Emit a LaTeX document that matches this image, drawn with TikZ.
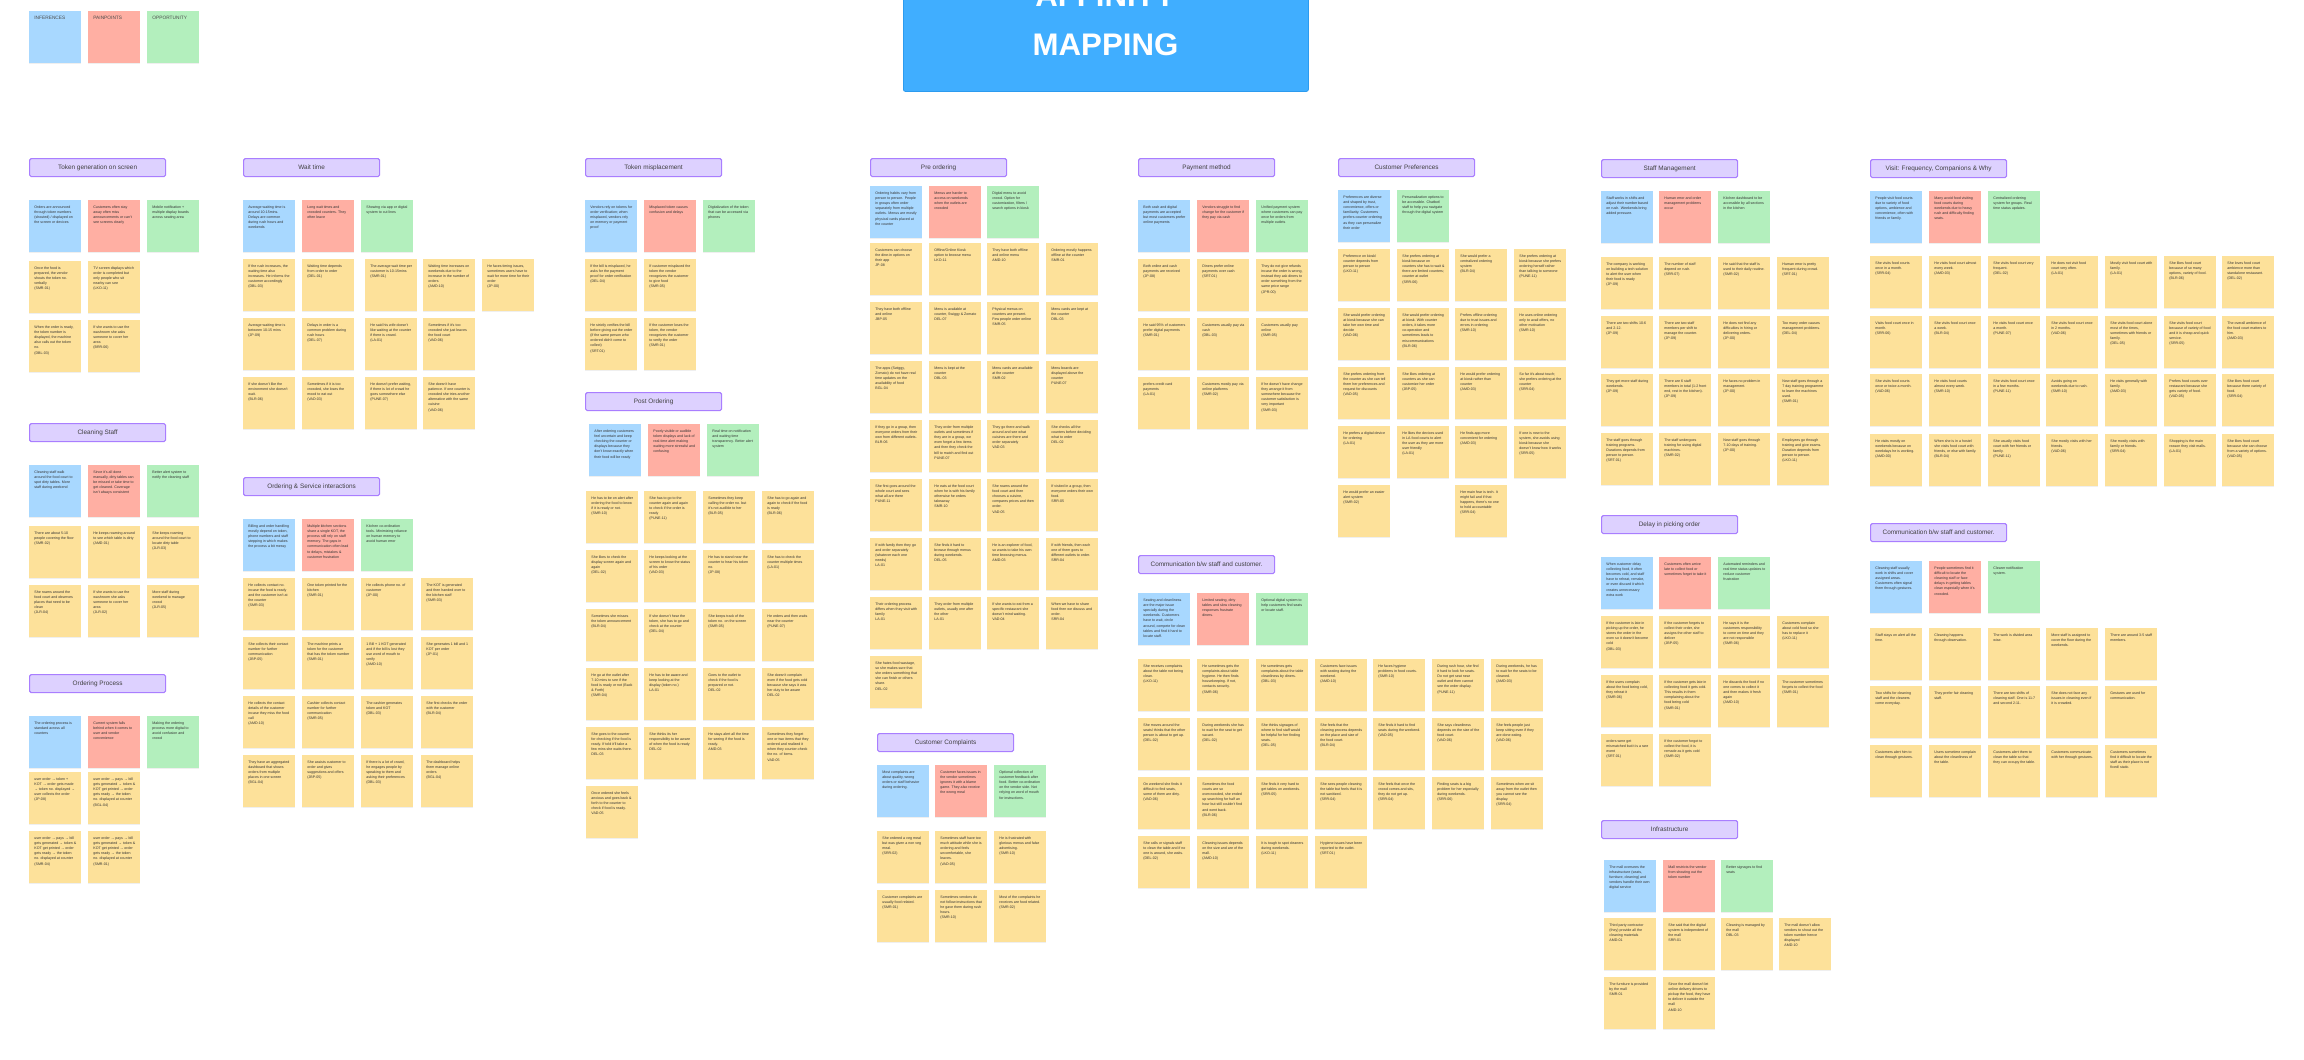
\documentclass[tikz,border=0pt]{standalone}
\usepackage{fontspec}
\setmainfont{Liberation Sans}
\usetikzlibrary{shadows}
\definecolor{nblue}{HTML}{A8D8FF}
\definecolor{npink}{HTML}{FFAFA3}
\definecolor{ngreen}{HTML}{B3EFBD}
\definecolor{nyel}{HTML}{FDE19A}
\definecolor{hfill}{HTML}{DDD1FF}
\definecolor{hdraw}{HTML}{A97EFF}
\definecolor{tfill}{HTML}{40AEFF}
\definecolor{tdraw}{HTML}{2C9BEF}
\newcommand\notesize{\fontsize{1.8}{2.6}\selectfont}
\tikzset{
  note/.style={anchor=north west, inner sep=2.5pt, minimum width=26pt, minimum height=26pt,
    text=black!80, font=\notesize, drop shadow={shadow xshift=0pt, shadow yshift=-0.5pt, opacity=0.12}},
  legnote/.style={note, font=\fontsize{2.4}{3}\selectfont, text=black!70},
  hdrbox/.style={anchor=north west, inner sep=0pt, minimum width=68pt, minimum height=9pt,
    fill=hfill, draw=hdraw, line width=0.6pt, rounded corners=0.8pt,
    font=\fontsize{3.2}{3.8}\selectfont, text=black!75},
  titlebox/.style={anchor=north west, inner sep=0pt, minimum width=202.5pt, minimum height=75pt,
    fill=tfill, draw=tdraw, line width=0.4pt, rounded corners=1pt},
  titletext/.style={anchor=base, text=white, font=\bfseries\fontsize{15.6}{18}\selectfont}
}
\newcommand\stk[5]{\node[note, fill=#1] (#2) at (#3,#4) {\parbox[t][21pt][t]{21pt}{\raggedright #5}};}
\newcommand\hdr[4]{\node[hdrbox] (#1) at (#2,#3) {#4};}
\begin{document}
\begin{tikzpicture}[x=0.5pt,y=-0.5pt]
\useasboundingbox (0,0) rectangle (2304,1060);
\fill[white] (0,0) rectangle (2304,1060);
\clip (0,0) rectangle (2304,1060);
% title
\node[titlebox] (title) at (903,-59) {};
\node[titletext] (titleA) at (1105.5,6) {AFFINITY};
\node[titletext] (titleB) at (1105.5,55) {MAPPING};
% legend
\node[legnote, fill=nblue] (legB) at (29,11) {\parbox[t][21pt][t]{21pt}{INFERENCES}};
\node[legnote, fill=npink] (legP) at (88,11) {\parbox[t][21pt][t]{21pt}{PAINPOINTS}};
\node[legnote, fill=ngreen] (legG) at (147,11) {\parbox[t][21pt][t]{21pt}{OPPORTUNITY}};

% ===== Token generation on screen
\hdr{h1}{29}{158}{Token generation on screen}
\stk{nblue}{a1}{29}{200}{Orders are announced through token numbers (shouted) / displayed on the screen or devices}
\stk{npink}{a2}{88}{200}{Customers often stay away often miss announcements or can't see screens clearly}
\stk{ngreen}{a3}{147}{200}{Mobile notification + multiple display boards across seating area}
\stk{nyel}{a4}{29}{261}{Once the food is prepared, the vendor shouts the token no. verbally\\(SMR-01)}
\stk{nyel}{a5}{88}{261}{TV screen displays which order is completed but only people who sit nearby can see\\(LKO-11)}
\stk{nyel}{a6}{29}{320}{When the order is ready, the token number is displayed, the machine also calls out the token no.\\(DBL-03)}
\stk{nyel}{a7}{88}{320}{If she wants to use the washroom she asks someone to cover her area\\(BRR-06)}

% ===== Cleaning Staff
\hdr{h2}{29}{423}{Cleaning Staff}
\stk{nblue}{b1}{29}{465}{Cleaning staff walk around the food court to spot dirty tables. More staff during weekend}
\stk{npink}{b2}{88}{465}{Since it's all done manually, dirty tables can be missed or take time to get cleaned. Coverage isn't always consistent}
\stk{ngreen}{b3}{147}{465}{Better alert system to notify the cleaning staff}
\stk{nyel}{b4}{29}{526}{There are about 5-10 people covering the floor\\(SMR-02)}
\stk{nyel}{b5}{88}{526}{He keeps roaming around to see which table is dirty\\(AMD-01)}
\stk{nyel}{b6}{147}{526}{She keeps roaming around the food court to locate dirty table\\(JLR-03)}
\stk{nyel}{b7}{29}{585}{She roams around the food court and observes places that need to be clean\\(JLR-04)}
\stk{nyel}{b8}{88}{585}{If she wants to use the washroom she asks someone to cover her area\\(JLR-02)}
\stk{nyel}{b9}{147}{585}{More staff during weekend to manage crowd\\(JLR-05)}

% ===== Ordering Process
\hdr{h3}{29}{674}{Ordering Process}
\stk{nblue}{c1}{29}{716}{The ordering process is standard across all counters}
\stk{npink}{c2}{88}{716}{Current system falls behind when it comes to user and vendor convenience}
\stk{ngreen}{c3}{147}{716}{Making the ordering process more digital to avoid confusion and crowd}
\stk{nyel}{c4}{29}{772}{user order → token + KOT → order gets made → token no. displayed → user collects the order\\(JP-08)}
\stk{nyel}{c5}{88}{772}{user order → pays → bill gets generated → token \& KOT get printed → order gets ready → the token no. displayed at counter\\(BGL-04)}
\stk{nyel}{c6}{29}{831}{user order → pays → bill gets generated → token \& KOT get printed → order gets ready → the token no. displayed at counter\\(SMR-04)}
\stk{nyel}{c7}{88}{831}{user order → pays → bill gets generated → token \& KOT get printed → order gets ready → the token no. displayed at counter\\(SMR-01)}

% ===== Wait time
\hdr{h4}{243}{158}{Wait time}
\stk{nblue}{d1}{243}{200}{Average waiting time is around 10-15mins. Delays are common during rush hours and weekends}
\stk{npink}{d2}{302}{200}{Long wait times and crowded counters. They often leave}
\stk{ngreen}{d3}{361}{200}{Showing via app or digital system to cut lines}
\stk{nyel}{d4}{243}{259}{If the rush increases, the waiting time also increases. He informs the customer accordingly\\(DBL-03)}
\stk{nyel}{d5}{302}{259}{Waiting time depends from order to order\\(DEL-01)}
\stk{nyel}{d6}{365}{259}{The average wait time per customer is 10-15mins\\(SMR-01)}
\stk{nyel}{d7}{423}{259}{Waiting time increases on weekends due to the increase in the number of orders\\(AMD-10)}
\stk{nyel}{d8}{482}{259}{He faces timing issues, sometimes users have to wait for more time for their order\\(JP-00)}
\stk{nyel}{d9}{243}{318}{Average waiting time is between 10-15 mins\\(JP-09)}
\stk{nyel}{d10}{302}{318}{Delays in order is a common problem during rush hours\\(DEL-07)}
\stk{nyel}{d11}{365}{318}{He said his wife doesn't like waiting at the counter if there is crowd.\\(LA-01)}
\stk{nyel}{d12}{423}{318}{Sometimes if it's too crowded she just leaves the food court\\(VAD-06)}
\stk{nyel}{d13}{243}{377}{If she doesn't like the environment she doesn't wait.\\(BLR-06)}
\stk{nyel}{d14}{302}{377}{Sometimes if it is too crowded, she loses the mood to eat out\\(VAD-03)}
\stk{nyel}{d15}{365}{377}{He doesn't prefer waiting, if there is lot of crowd he goes somewhere else\\(PUNE-07)}
\stk{nyel}{d16}{423}{377}{She doesn't have patience. If one counter is crowded she tries another alternative with the same cuisine\\(VAD-06)}

% ===== Ordering & Service interactions
\hdr{h5}{243}{477}{Ordering \& Service interactions}
\stk{nblue}{e1}{243}{519}{Billing and order handling mostly depend on token, phone numbers and staff stepping in which makes the process a bit messy}
\stk{npink}{e2}{302}{519}{Multiple kitchen sections share a single KOT, the process still rely on staff memory. The gaps in communication often lead to delays, mistakes \& customer frustration}
\stk{ngreen}{e3}{361}{519}{Kitchen co-ordination tools. Minimizing reliance on human memory to avoid human error}
\stk{nyel}{e4}{243}{578}{He collects contact no. incase the food is ready and the customer isn't at the counter\\(SMR-03)}
\stk{nyel}{e5}{302}{578}{One token printed for the kitchen\\(SMR-01)}
\stk{nyel}{e6}{361}{578}{He collects phone no. of customer\\(JP-00)}
\stk{nyel}{e7}{421}{578}{The KOT is generated and then handed over to the kitchen staff\\(SMR-03)}
\stk{nyel}{e8}{243}{637}{She collects their contact number for further communication\\(JBP-05)}
\stk{nyel}{e9}{302}{637}{The machine prints a token for the customer that has the token number\\(SMR-01)}
\stk{nyel}{e10}{361}{637}{1 Bill + 1 KOT generated and if the bill is lost they use word of mouth to verify\\(AMD-10)}
\stk{nyel}{e11}{421}{637}{She generates 1 bill and 1 KOT per order\\(JP-01)}
\stk{nyel}{e12}{243}{696}{He collects the contact details of the customer incase they miss the food call\\(AMD-10)}
\stk{nyel}{e13}{302}{696}{Cashier collects contact number for further communication\\(SMR-05)}
\stk{nyel}{e14}{361}{696}{The cashier generates token and KOT\\(DBL-03)}
\stk{nyel}{e15}{421}{696}{She first checks the order with the customer\\(BLR-04)}
\stk{nyel}{e16}{243}{755}{They have an aggregated dashboard that shows orders from multiple places in one screen\\(BGL-04)}
\stk{nyel}{e17}{302}{755}{She assists customer to order and gives suggestions and offers\\(JBP-05)}
\stk{nyel}{e18}{361}{755}{If there is a lot of crowd, he engages people by speaking to them and asking their preferences\\(DBL-03)}
\stk{nyel}{e19}{421}{755}{The dashboard helps them manage online orders\\(BGL-04)}

% ===== Token misplacement
\hdr{h6}{585}{158}{Token misplacement}
\stk{nblue}{f1}{585}{200}{Vendors rely on tokens for order verification; when misplaced, vendors rely on memory or payment proof}
\stk{npink}{f2}{644}{200}{Misplaced token causes confusion and delays}
\stk{ngreen}{f3}{703}{200}{Digitalization of the token that can be accessed via phones}
\stk{nyel}{f4}{585}{259}{If the bill is misplaced, he asks for the payment proof for order verification\\(DEL-04)}
\stk{nyel}{f5}{644}{259}{If customer misplaced the token the vendor recognizes the customer to give food\\(SMR-05)}
\stk{nyel}{f6}{585}{318}{He strictly verifies the bill before giving out the order (if the same person who ordered didn't come to collect)\\(SRT-01)}
\stk{nyel}{f7}{644}{318}{If the customer loses the token, the vendor recognizes the customer to verify the order\\(SMR-01)}

% ===== Post Ordering
\hdr{h7}{585}{392}{Post Ordering}
\stk{nblue}{g1}{589}{424}{After ordering customers feel uncertain and keep checking the counter or displays because they don't know exactly when their food will be ready}
\stk{npink}{g2}{648}{424}{Poorly visible or audible token displays and lack of real-time alert making waiting more stressful and confusing}
\stk{ngreen}{g3}{707}{424}{Real time on notification and waiting time transparency. Better alert system}
\stk{nyel}{g4}{586}{491}{He has to be on alert after ordering the food to know if it is ready or not.\\(SMR-10)}
\stk{nyel}{g5}{644}{491}{She has to go to the counter again and again to check if the order is ready\\(PUNE-11)}
\stk{nyel}{g6}{703}{491}{Sometimes they keep calling the order no. but it's not audible to her\\(BLR-05)}
\stk{nyel}{g7}{762}{491}{She has to go again and again to check if the food is ready\\(BLR-06)}
\stk{nyel}{g8}{586}{550}{She likes to check the display screen again and again\\(DEL-02)}
\stk{nyel}{g9}{644}{550}{He keeps looking at the screen to know the status of his order\\(VAD-03)}
\stk{nyel}{g10}{703}{550}{He has to stand near the counter to hear his token no.\\(JP-08)}
\stk{nyel}{g11}{762}{550}{She has to check the counter multiple times\\(LA-01)}
\stk{nyel}{g12}{586}{609}{Sometimes she misses the token announcement\\(BLR-04)}
\stk{nyel}{g13}{644}{609}{If she doesn't hear the token, she has to go and check at the counter\\(DEL-04)}
\stk{nyel}{g14}{703}{609}{She keeps track of the token no. on the screen\\(SMR-05)}
\stk{nyel}{g15}{762}{609}{He orders and then waits near the counter\\(PUNE-07)}
\stk{nyel}{g16}{586}{668}{He go at the outlet after 7-10 mins to see if the food is ready or not (Back \& Forth)\\(SMR-04)}
\stk{nyel}{g17}{644}{668}{He has to be aware and keep looking at the display (token no.)\\LA-01}
\stk{nyel}{g18}{703}{668}{Goes to the outlet to check if the food is prepared or not.\\DEL-02}
\stk{nyel}{g19}{762}{668}{She doesn't complain even if the food gets cold because she says it was her duty to be aware\\DEL-02}
\stk{nyel}{g20}{586}{727}{She goes to the counter for checking if the food is ready. If told it'll take a few mins she waits there.\\DEL-03}
\stk{nyel}{g21}{644}{727}{She thinks its her responsibility to be aware of when the food is ready\\DEL-02}
\stk{nyel}{g22}{703}{727}{He stays alert all the time for seeing if the food is ready.\\AMD-03}
\stk{nyel}{g23}{762}{727}{Sometimes they forget one or two items that they ordered and realized it when they counter-check the no. of items.\\VAD-05}
\stk{nyel}{g24}{586}{786}{Once ordered she feels anxious and goes back \& forth to the counter to check if food is ready.\\VAD-05}

% ===== Pre ordering
\hdr{h8}{870}{158}{Pre ordering}
\stk{nblue}{k1}{870}{186}{Ordering habits vary from person to person. People in groups often order separately from multiple outlets. Menus are mostly physical cards placed at the counter}
\stk{npink}{k2}{929}{186}{Menus are harder to access on weekends when the outlets are crowded}
\stk{ngreen}{k3}{987}{186}{Digital menu to avoid crowd. Option for customization, filters / search options in kiosk}
\stk{nyel}{k4}{870}{243}{Customers can choose the dine-in options on their app\\JP-08}
\stk{nyel}{k5}{929}{243}{Offline/Online Kiosk option to browse menu\\LKO-11}
\stk{nyel}{k6}{987}{243}{They have both offline and online menu\\AMD-10}
\stk{nyel}{k7}{1046}{243}{Ordering mostly happens offline at the counter\\SMR-01}
\stk{nyel}{k8}{870}{302}{They have both offline and online\\JBP-05}
\stk{nyel}{k9}{929}{302}{Menu is available at counter, Swiggy \& Zomato\\DEL-07}
\stk{nyel}{k10}{987}{302}{Physical menus on counters are present. Few people order online\\SMR-05}
\stk{nyel}{k11}{1046}{302}{Menu cards are kept at the counter\\DBL-03}
\stk{nyel}{k12}{870}{361}{The apps (Swiggy, Zomato) do not have real time updates on the availability of food\\BGL-04}
\stk{nyel}{k13}{929}{361}{Menu is kept at the counter\\DBL-03}
\stk{nyel}{k14}{987}{361}{Menu cards are available at the counter\\SMR-02}
\stk{nyel}{k15}{1046}{361}{Menu boards are displayed above the counter\\PUNE-07}
\stk{nyel}{k16}{870}{420}{If they go in a group, then everyone orders from their own from different outlets.\\BLR-06}
\stk{nyel}{k17}{929}{420}{They order from multiple outlets and sometimes if they are in a group, we even forget a few items and then they check the bill to match and find out\\PUNE-07}
\stk{nyel}{k18}{987}{420}{They go there and walk around and see what cuisines are there and order separately\\VAD-03}
\stk{nyel}{k19}{1046}{420}{She checks all the counters before deciding what to order\\DEL-02}
\stk{nyel}{k20}{870}{479}{She first goes around the whole court and sees what all are there\\PUNE-11}
\stk{nyel}{k21}{929}{479}{He eats at the food court when he is with his family otherwise he orders takeaway\\SMR-10}
\stk{nyel}{k22}{987}{479}{She roams around the food court and then chooses a cuisine, compares prices and then order.\\VAD-05}
\stk{nyel}{k23}{1046}{479}{If visited in a group, then everyone orders their own food.\\SRR-05}
\stk{nyel}{k24}{870}{538}{If with family then they go and order separately (whatever each one needs)\\LA-01}
\stk{nyel}{k25}{929}{538}{She finds it hard to browse through menus during weekends.\\DEL-05}
\stk{nyel}{k26}{987}{538}{He is an explorer of food, so wants to take his own time browsing menus.\\AMD-03}
\stk{nyel}{k27}{1046}{538}{If with friends, then each one of them goes to different outlets to order.\\SRR-04}
\stk{nyel}{k28}{870}{597}{Their ordering process differs when they visit with family\\LA-01}
\stk{nyel}{k29}{929}{597}{They order from multiple outlets, usually one after the other\\LA-01}
\stk{nyel}{k30}{987}{597}{If she wants to eat from a specific restaurant she doesn't mind waiting.\\VAD-04}
\stk{nyel}{k31}{1046}{597}{When we have to share food then we discuss and order.\\SRR-04}
\stk{nyel}{k32}{870}{656}{She hates food wastage, so she makes sure that she orders something that she can finish or others share.\\DEL-02}

% ===== Customer Complaints
\hdr{h9}{877}{733}{Customer Complaints}
\stk{nblue}{m1}{877}{765}{Most complaints are about quality, wrong orders or staff behavior during ordering.}
\stk{npink}{m2}{935}{765}{Customer faces issues in the vendor sometimes ignores it with a blame game. They also receive the wrong meal}
\stk{ngreen}{m3}{994}{765}{Optional collection of customer feedback after food. Better co-ordination on the vendor side. Not relying on word of mouth for instructions.}
\stk{nyel}{m4}{877}{831}{She ordered a veg meal but was given a non veg meal.\\(SRR-02)}
\stk{nyel}{m5}{935}{831}{Sometimes staff have too much attitude while she is ordering and feels uncomfortable, she leaves.\\(VAD-05)}
\stk{nyel}{m6}{994}{831}{He is frustrated with glorious menus and false advertising.\\(SMR-10)}
\stk{nyel}{m7}{877}{890}{Customer complaints are usually food related.\\(SMR-01)}
\stk{nyel}{m8}{935}{890}{Sometimes vendors do not follow instructions that he gave them during rush hours.\\(SMR-10)}
\stk{nyel}{m9}{994}{890}{Most of the complaints he receives are food related.\\(SMR-02)}

% ===== Payment method
\hdr{h10}{1138}{158}{Payment method}
\stk{nblue}{p1}{1138}{200}{Both cash and digital payments are accepted but most customers prefer online payments}
\stk{npink}{p2}{1197}{200}{Vendors struggle to find change for the customer if they pay via cash}
\stk{ngreen}{p3}{1256}{200}{Unified payment system where customers can pay once for orders from multiple outlets}
\stk{nyel}{p4}{1138}{259}{Both online and cash payments are received\\(JP-08)}
\stk{nyel}{p5}{1197}{259}{Diners prefer online payments over cash\\(SRT-01)}
\stk{nyel}{p6}{1256}{259}{They do not give refunds incase the order is wrong, instead they ask diners to order something from the same price range\\(JPR-00)}
\stk{nyel}{p7}{1138}{318}{He said 95\% of customers prefer digital payments\\(SMR-01)}
\stk{nyel}{p8}{1197}{318}{Customers usually pay via cash\\(DBL-03)}
\stk{nyel}{p9}{1256}{318}{Customers usually pay online\\(SMR-05)}
\stk{nyel}{p10}{1138}{377}{prefers credit card payments\\(LA-01)}
\stk{nyel}{p11}{1197}{377}{Customers mostly pay via online platforms\\(SMR-02)}
\stk{nyel}{p12}{1256}{377}{If he doesn't have change they arrange it from somewhere because the customer satisfaction is very important\\(SMR-03)}

% ===== Customer Preferences
\hdr{h11}{1338}{158}{Customer Preferences}
\stk{nblue}{q1}{1338}{190}{Preferences are diverse and shaped by trust, convenience, offers or familiarity. Customers prefers counter ordering as they can personalize their order}
\stk{ngreen}{q2}{1397}{190}{Personalization options to be accessible. Chatbot/ staff to help you navigate through the digital system}
\stk{nyel}{q3}{1338}{249}{Preference on kiosk/ counter depends from person to person\\(LKO-11)}
\stk{nyel}{q4}{1397}{249}{She prefers ordering at kiosk because on counters she has to wait \& there are limited counters; counter at outlet\\(SRR-06)}
\stk{nyel}{q5}{1455}{249}{She would prefer a centralized ordering system\\(BLR-04)}
\stk{nyel}{q6}{1514}{249}{She prefers ordering at kiosk because she prefers ordering herself rather than talking to someone\\(PUNE-11)}
\stk{nyel}{q7}{1338}{308}{She would prefer ordering at kiosk because she can take her own time and decide\\(VAD-06)}
\stk{nyel}{q8}{1397}{308}{She would prefer ordering at kiosk. With counter orders, it takes more co-operation and sometimes leads to miscommunications\\(BLR-06)}
\stk{nyel}{q9}{1455}{308}{Prefers offline ordering due to trust issues and errors in ordering\\(SMR-10)}
\stk{nyel}{q10}{1514}{308}{He uses online ordering only to avail offers, no other motivation\\(SMR-10)}
\stk{nyel}{q11}{1338}{367}{She prefers ordering from the counter as she can tell them her preferences and request for discounts\\(VAD-05)}
\stk{nyel}{q12}{1397}{367}{She likes ordering at counters as she can customize her order\\(JBP-05)}
\stk{nyel}{q13}{1455}{367}{He would prefer ordering at kiosk rather than counter\\(AMD-03)}
\stk{nyel}{q14}{1514}{367}{So far it's about touch; she prefers ordering at the counter\\(SRR-04)}
\stk{nyel}{q15}{1338}{426}{He prefers a digital device for ordering\\(LA-01)}
\stk{nyel}{q16}{1397}{426}{He likes the devices used in LA food courts to alert the user as they are more user friendly\\(LA-01)}
\stk{nyel}{q17}{1455}{426}{He finds app more convenient for ordering\\(AMD-03)}
\stk{nyel}{q18}{1514}{426}{If one is new to the system, she avoids using kiosk because she doesn't know how it works\\(SRR-05)}
\stk{nyel}{q19}{1338}{485}{He would prefer an easier alert system\\(SMR-02)}
\stk{nyel}{q20}{1455}{485}{Her main fear is tech. It might fail and if that happens, there's no one to hold accountable\\(SRR-04)}

% ===== Communication b/w staff and customer (middle)
\hdr{h12}{1138}{555}{Communication b/w staff and customer.}
\stk{nblue}{r1}{1138}{593}{Seating and cleanliness are the major issue specially during the weekends. Customers have to wait, circle around, compete for clean tables and find it hard to locate staff.}
\stk{npink}{r2}{1197}{593}{Limited seating, dirty tables and slow cleaning responses frustrate diners.}
\stk{ngreen}{r3}{1256}{593}{Optional digital system to help customers find seats or locate staff.}
\stk{nyel}{r4}{1138}{659}{She receives complaints about the table not being clean.\\(LKO-11)}
\stk{nyel}{r5}{1197}{659}{He sometimes gets the complaints about table hygiene. He then finds housekeeping. If not, contacts security.\\(SMR-06)}
\stk{nyel}{r6}{1256}{659}{He sometimes gets complaints about the table cleanliness by diners.\\(DBL-03)}
\stk{nyel}{r7}{1315}{659}{Customers face issues with seating during the weekend.\\(AMD-10)}
\stk{nyel}{r8}{1373}{659}{He faces hygiene problems in food courts.\\(SMR-10)}
\stk{nyel}{r9}{1432}{659}{During rush hour, she find it hard to look for seats. Do not get seat near outlet and then cannot see the order display.\\(PUNE-11)}
\stk{nyel}{r10}{1491}{659}{During weekends, he has to wait for the seats to be cleaned.\\(AMD-03)}
\stk{nyel}{r11}{1138}{718}{She moves around the seats/ thinks that the other person is about to get up.\\(DEL-02)}
\stk{nyel}{r12}{1197}{718}{During weekends she has to wait for the seat to get vacant.\\(DEL-02)}
\stk{nyel}{r13}{1256}{718}{She thinks signages of where to find staff would be helpful for her finding seats.\\(DEL-05)}
\stk{nyel}{r14}{1315}{718}{She feels that the cleaning process depends on the place and size of the food court.\\(BLR-04)}
\stk{nyel}{r15}{1373}{718}{She finds it hard to find seats during the weekend.\\(VAD-05)}
\stk{nyel}{r16}{1432}{718}{She says cleanliness depends on the size of the food court.\\(VAD-06)}
\stk{nyel}{r17}{1491}{718}{She feels people just keep sitting even if they are done eating.\\(VAD-06)}
\stk{nyel}{r18}{1138}{777}{On weekend she finds it difficult to find seats, some of them are dirty.\\(VAD-06)}
\stk{nyel}{r19}{1197}{777}{Sometimes the food courts are so overcrowded, she ended up searching for half an hour but still couldn't find and went back.\\(BLR-06)}
\stk{nyel}{r20}{1256}{777}{She finds it very hard to get tables on weekends.\\(SRR-05)}
\stk{nyel}{r21}{1315}{777}{She sees people cleaning the table but feels that it is not sanitized.\\(SRR-04)}
\stk{nyel}{r22}{1373}{777}{She feels that once the crowd comes and sits, they do not get up.\\(SRR-04)}
\stk{nyel}{r23}{1432}{777}{Finding seats is a big problem for her especially during weekends.\\(SRR-06)}
\stk{nyel}{r24}{1491}{777}{Sometimes when we sit away from the outlet then you cannot see the display.\\(SRR-04)}
\stk{nyel}{r25}{1138}{836}{She calls or signals staff to clean the table and if no one is around, she waits.\\(DEL-02)}
\stk{nyel}{r26}{1197}{836}{Cleaning issues depends on the size and are of the mall.\\(AMD-10)}
\stk{nyel}{r27}{1256}{836}{It is tough to spot cleaners during weekends.\\(LKO-11)}
\stk{nyel}{r28}{1315}{836}{Hygiene issues have been reported to the outlet.\\(SRT-01)}

% ===== Staff Management
\hdr{h13}{1601}{159}{Staff Management}
\stk{nblue}{s1}{1601}{191}{Staff works in shifts and adjust their number based on rush. Weekends bring added pressure.}
\stk{npink}{s2}{1659}{191}{Human error and order management problems occur}
\stk{ngreen}{s3}{1718}{191}{Kitchen dashboard to be accessible by all sections in the kitchen}
\stk{nyel}{s4}{1601}{257}{The company is working on building a tech solution to alert the user when their food is ready\\(JP-09)}
\stk{nyel}{s5}{1659}{257}{The number of staff depend on rush.\\(SRR-07)}
\stk{nyel}{s6}{1718}{257}{He said that the staff is used to their daily routine.\\(SMR-02)}
\stk{nyel}{s7}{1777}{257}{Human error is pretty frequent during crowd.\\(SRT-01)}
\stk{nyel}{s8}{1601}{316}{There are two shifts 10-6 and 2-12.\\(JP-09)}
\stk{nyel}{s9}{1659}{316}{There are two staff members per shift to manage the counter.\\(JP-09)}
\stk{nyel}{s10}{1718}{316}{He does not find any difficulties in hiring or delivering orders.\\(JP-00)}
\stk{nyel}{s11}{1777}{316}{Too many order causes management problems.\\(DEL-04)}
\stk{nyel}{s12}{1601}{374}{They get more staff during weekends.\\(JP-09)}
\stk{nyel}{s13}{1659}{374}{There are 6 staff members in total (1-2 front end, rest in the kitchen).\\(JP-09)}
\stk{nyel}{s14}{1718}{374}{He faces no problem in management.\\(JP-00)}
\stk{nyel}{s15}{1777}{374}{New staff goes through a 7 day training programme to learn the machines used.\\(SMR-01)}
\stk{nyel}{s16}{1601}{433}{The staff goes through training programs. Durations depends from person to person.\\(SRT-01)}
\stk{nyel}{s17}{1659}{433}{The staff undergoes training for using digital machines.\\(SMR-02)}
\stk{nyel}{s18}{1718}{433}{New staff goes through 7-10 days of training.\\(JP-00)}
\stk{nyel}{s19}{1777}{433}{Employees go through training and give exams. Duration depends from person to person.\\(LKO-11)}

% ===== Delay in picking order
\hdr{h14}{1601}{515}{Delay in picking order}
\stk{nblue}{t1}{1601}{557}{When customer delay collecting food, it often becomes cold, and staff have to reheat, remake, or even discard it which creates unnecessary extra work}
\stk{npink}{t2}{1659}{557}{Customers often arrive late to collect food or sometimes forget to take it}
\stk{ngreen}{t3}{1718}{557}{Automated reminders and real time status updates to reduce customer frustration}
\stk{nyel}{t4}{1601}{616}{If the customer is late in picking up the order, he stores the order in the oven so it doesn't become cold\\(DBL-03)}
\stk{nyel}{t5}{1659}{616}{If the customer forgets to collect their order, she assigns the other staff to deliver\\(JBP-05)}
\stk{nyel}{t6}{1718}{616}{He says it is the customers responsibility to come on time and they are not responsible\\(SMR-06)}
\stk{nyel}{t7}{1777}{616}{Customers complain about cold food so she has to replace it\\(LKO-11)}
\stk{nyel}{t8}{1601}{675}{If the users complain about the food being cold, they reheat it\\(SMR-06)}
\stk{nyel}{t9}{1659}{675}{If the customer gets late in collecting food it gets cold. This results in them complaining about the food being cold\\(SMR-01)}
\stk{nyel}{t10}{1718}{675}{He discards the food if no one comes to collect it and then makes it fresh again\\(AMD-10)}
\stk{nyel}{t11}{1777}{675}{The customer sometimes forgets to collect the food\\(SMR-01)}
\stk{nyel}{t12}{1601}{734}{orders were get mismatched but it is a rare event\\(SRT-01)}
\stk{nyel}{t13}{1659}{734}{If the customer forgot to collect the food, it is remade as it gets cold\\(SMR-02)}

% ===== Infrastructure
\hdr{h15}{1601}{820}{Infrastructure}
\stk{nblue}{u1}{1604}{860}{The mall oversees the infrastructure (seats, furniture, cleaning) and vendors handle their own digital service}
\stk{npink}{u2}{1663}{860}{Mall restricts the vendor from shouting out the token number}
\stk{ngreen}{u3}{1721}{860}{Better signages to find seats}
\stk{nyel}{u4}{1604}{918}{Third party contractor (they) provide all the cleaning materials\\AMD-01}
\stk{nyel}{u5}{1663}{918}{She said that the digital system is independent of the mall\\SRR-01}
\stk{nyel}{u6}{1721}{918}{Cleaning is managed by the mall\\DBL-03}
\stk{nyel}{u7}{1779}{918}{The mall doesn't allow vendors to shout out the token number hence displayed\\AMD-10}
\stk{nyel}{u8}{1604}{977}{The furniture is provided by the mall\\SMR-01}
\stk{nyel}{u9}{1663}{977}{Since the mall doesn't let online delivery drivers to pickup the food, they have to deliver it outside the mall\\AMD-10}

% ===== Visit: Frequency, Companions & Why
\hdr{h16}{1870}{159}{Visit: Frequency, Companions \& Why}
\stk{nblue}{v1}{1870}{191}{People visit food courts due to variety of food options, ambience and convenience, often with friends or family.}
\stk{npink}{v2}{1929}{191}{Many avoid food visiting food courts during weekends due to heavy rush and difficulty finding seats.}
\stk{ngreen}{v3}{1988}{191}{Centralized ordering system for groups. Real time status updates.}
\stk{nyel}{v4}{1870}{256}{She visits food courts once in a month.\\(SRR-04)}
\stk{nyel}{v5}{1929}{256}{He visits food court almost every week.\\(AMD-03)}
\stk{nyel}{v6}{1988}{256}{She visits food court very frequent.\\(DEL-02)}
\stk{nyel}{v7}{2046}{256}{He does not visit food court very often.\\(LA-01)}
\stk{nyel}{v8}{2105}{256}{Mostly visit food court with family.\\(LA-01)}
\stk{nyel}{v9}{2164}{256}{She likes food court because of so many options, variety of food.\\(BLR-06)}
\stk{nyel}{v10}{2222}{256}{She loves food court ambience more than standalone restaurant.\\(DEL-02)}
\stk{nyel}{v11}{1870}{316}{Visits food court once in month.\\(SRR-06)}
\stk{nyel}{v12}{1929}{316}{She visits food court once a week.\\(BLR-04)}
\stk{nyel}{v13}{1988}{316}{He visits food court once a month.\\(PUNE-07)}
\stk{nyel}{v14}{2046}{316}{She visits food court once in 2 months.\\(VAD-06)}
\stk{nyel}{v15}{2105}{316}{She visits food court alone most of the times, sometimes with friends or family.\\(DEL-05)}
\stk{nyel}{v16}{2164}{316}{She visits food court because of variety of food and it is cheap and quick service.\\(SRR-05)}
\stk{nyel}{v17}{2222}{316}{The overall ambience of the food court matters to him.\\(AMD-03)}
\stk{nyel}{v18}{1870}{374}{She visits food courts once or twice a month.\\(VAD-06)}
\stk{nyel}{v19}{1929}{374}{He visits food courts almost every week.\\(SMR-10)}
\stk{nyel}{v20}{1988}{374}{She visits food court once in a few months.\\(PUNE-11)}
\stk{nyel}{v21}{2046}{374}{Avoids going on weekends due to rush.\\(SMR-10)}
\stk{nyel}{v22}{2105}{374}{He visits generally with family.\\(AMD-03)}
\stk{nyel}{v23}{2164}{374}{Prefers food courts over restaurant because she gets variety of food.\\(VAD-05)}
\stk{nyel}{v24}{2222}{374}{She likes food court because there variety of food.\\(SRR-04)}
\stk{nyel}{v25}{1870}{434}{He visits mostly on weekends because on weekdays he is working.\\(AMD-00)}
\stk{nyel}{v26}{1929}{434}{When she is in a hostel she visits food court with friends, or else with family.\\(BLR-04)}
\stk{nyel}{v27}{1988}{434}{She usually visits food court with her friends or family.\\(PUNE-11)}
\stk{nyel}{v28}{2046}{434}{She mostly visits with her friends.\\(VAD-06)}
\stk{nyel}{v29}{2105}{434}{She mostly visits with family or friends.\\(SRR-04)}
\stk{nyel}{v30}{2164}{434}{Shopping is the main reason they visit malls.\\(LA-01)}
\stk{nyel}{v31}{2222}{434}{She likes food court because she can choose from a variety of options.\\(VAD-05)}

% ===== Communication b/w staff and customer (right)
\hdr{h17}{1870}{523}{Communication b/w staff and customer.}
\stk{nblue}{w1}{1870}{561}{Cleaning staff usually work in shifts and cover assigned areas. Customers often signal them through gestures.}
\stk{npink}{w2}{1929}{561}{People sometimes find it difficult to locate the cleaning staff or face delays in getting tables clean especially when it's crowded.}
\stk{ngreen}{w3}{1988}{561}{Clearer notification system.}
\stk{nyel}{w4}{1870}{628}{Staff stays on alert all the time.}
\stk{nyel}{w5}{1929}{628}{Cleaning happens through observation.}
\stk{nyel}{w6}{1988}{628}{The work is divided area wise.}
\stk{nyel}{w7}{2046}{628}{More staff is assigned to cover the floor during the weekends.}
\stk{nyel}{w8}{2105}{628}{There are around 3-5 staff members.}
\stk{nyel}{w9}{1870}{686}{Two shifts for cleaning staff and the cleaners come everyday.}
\stk{nyel}{w10}{1929}{686}{They prefer fair cleaning staff.}
\stk{nyel}{w11}{1988}{686}{There are two shifts of cleaning staff. One is 11-7 and second 2-11.}
\stk{nyel}{w12}{2046}{686}{She does not face any issues in cleaning even if it is crowded.}
\stk{nyel}{w13}{2105}{686}{Gestures are used for communication.}
\stk{nyel}{w14}{1870}{745}{Customers alert him to clean through gestures.}
\stk{nyel}{w15}{1929}{745}{Users sometime complain about the cleanliness of the table.}
\stk{nyel}{w16}{1988}{745}{Customers alert them to clean the table so that they can occupy the table.}
\stk{nyel}{w17}{2046}{745}{Customers communicate with her through gestures.}
\stk{nyel}{w18}{2105}{745}{Customers sometimes find it difficult to locate the staff as their place is not fixed/ static.}
\end{tikzpicture}
\end{document}
